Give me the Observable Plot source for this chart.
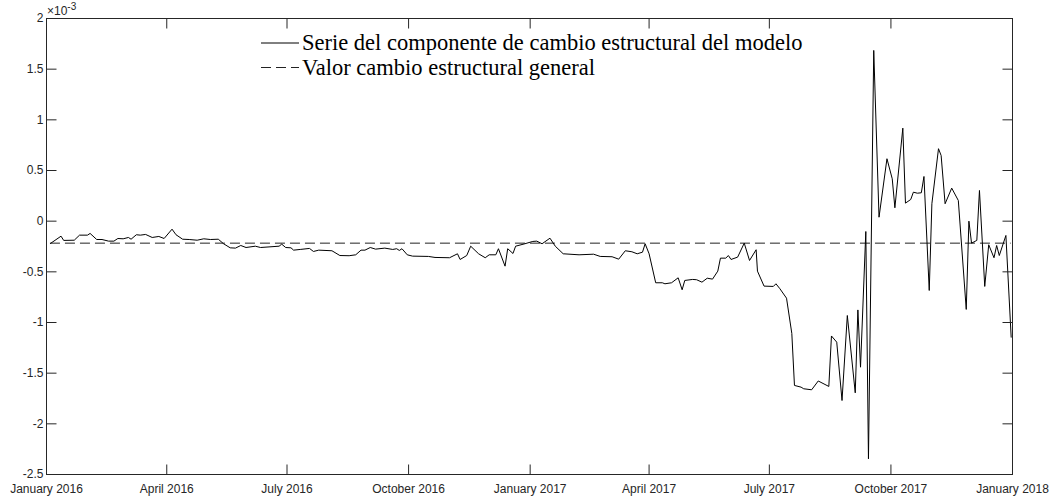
<!DOCTYPE html>
<html><head><meta charset="utf-8">
<script src="https://cdn.jsdelivr.net/npm/d3@7"></script>
<script src="https://cdn.jsdelivr.net/npm/@observablehq/plot@0.6"></script>
<style>body{margin:0;background:#fff} #chart{width:1053px;height:496px}</style>
</head><body><div id="chart"></div>
<script>
// ---- data (values in units of 10^-3) ----
const seriesDates = [
"2016-01-04","2016-01-12","2016-01-14","2016-01-22","2016-01-26","2016-02-01","2016-02-03","2016-02-08","2016-02-12","2016-02-17",
"2016-02-21","2016-02-24","2016-02-28","2016-03-03","2016-03-05","2016-03-09","2016-03-12","2016-03-16","2016-03-21","2016-03-26",
"2016-03-30","2016-04-05","2016-04-08","2016-04-13","2016-04-18","2016-04-24","2016-04-29","2016-05-04","2016-05-10","2016-05-14",
"2016-05-19","2016-05-23","2016-05-27","2016-05-31","2016-06-07","2016-06-11","2016-06-25","2016-06-27","2016-06-30","2016-07-04",
"2016-07-06","2016-07-11","2016-07-18","2016-07-21","2016-07-25","2016-08-04","2016-08-10","2016-08-17","2016-08-22","2016-08-26",
"2016-08-29","2016-09-02","2016-09-06","2016-09-13","2016-09-19","2016-09-22","2016-09-24","2016-09-26","2016-09-30","2016-10-04",
"2016-10-16","2016-10-21","2016-11-01","2016-11-07","2016-11-09","2016-11-14","2016-11-17","2016-11-23","2016-11-28","2016-12-01",
"2016-12-06","2016-12-08","2016-12-13","2016-12-15","2016-12-19","2016-12-21","2016-12-28",
"2017-01-03","2017-01-06","2017-01-10","2017-01-16","2017-01-20","2017-01-26","2017-02-07","2017-02-18","2017-02-23","2017-03-04",
"2017-03-09","2017-03-14","2017-03-19","2017-03-23","2017-03-27","2017-03-29","2017-04-01","2017-04-06","2017-04-11","2017-04-13",
"2017-04-18","2017-04-23","2017-04-26","2017-04-28","2017-05-04","2017-05-07","2017-05-11","2017-05-15","2017-05-19","2017-05-23",
"2017-05-25","2017-05-29","2017-05-31","2017-06-02","2017-06-07","2017-06-12","2017-06-16","2017-06-21","2017-06-22","2017-06-27",
"2017-07-04","2017-07-06","2017-07-09","2017-07-14","2017-07-18","2017-07-20","2017-07-25","2017-07-27","2017-08-02","2017-08-07",
"2017-08-15","2017-08-17","2017-08-21","2017-08-25","2017-08-29","2017-09-04","2017-09-06","2017-09-08","2017-09-12","2017-09-14",
"2017-09-18","2017-09-22","2017-09-28","2017-10-02","2017-10-04","2017-10-10","2017-10-12","2017-10-16","2017-10-18","2017-10-21",
"2017-10-24","2017-10-26","2017-10-30","2017-11-01","2017-11-06","2017-11-08","2017-11-11","2017-11-16","2017-11-21","2017-11-27",
"2017-11-29","2017-12-01","2017-12-05","2017-12-07","2017-12-11","2017-12-14","2017-12-18","2017-12-20","2017-12-22","2017-12-27",
"2017-12-31"];
const seriesValues = [
-0.220,-0.148,-0.190,-0.188,-0.138,-0.138,-0.121,-0.181,-0.181,-0.197,
-0.197,-0.171,-0.174,-0.161,-0.178,-0.134,-0.138,-0.131,-0.161,-0.151,
-0.171,-0.079,-0.134,-0.178,-0.181,-0.188,-0.174,-0.181,-0.178,-0.223,
-0.263,-0.266,-0.240,-0.260,-0.247,-0.260,-0.247,-0.227,-0.260,-0.263,
-0.286,-0.279,-0.269,-0.299,-0.286,-0.292,-0.339,-0.341,-0.332,-0.286,
-0.286,-0.260,-0.276,-0.266,-0.279,-0.272,-0.289,-0.272,-0.332,-0.345,
-0.348,-0.358,-0.361,-0.322,-0.378,-0.339,-0.247,-0.322,-0.361,-0.332,
-0.332,-0.272,-0.444,-0.272,-0.319,-0.247,-0.223,
-0.200,-0.197,-0.223,-0.168,-0.247,-0.322,-0.332,-0.326,-0.348,-0.351,
-0.375,-0.292,-0.302,-0.322,-0.306,-0.223,-0.322,-0.608,-0.608,-0.618,
-0.608,-0.559,-0.677,-0.585,-0.575,-0.578,-0.602,-0.563,-0.572,-0.493,
-0.365,-0.365,-0.339,-0.378,-0.355,-0.217,-0.388,-0.282,-0.493,-0.641,
-0.644,-0.618,-0.667,-0.760,-1.108,-1.621,-1.638,-1.654,-1.664,-1.577,
-1.631,-1.133,-1.194,-1.770,-0.931,-1.694,-0.876,-1.441,-0.102,-2.345,
1.685,0.039,0.616,0.418,0.132,0.918,0.178,0.214,0.286,0.276,
0.280,0.441,-0.684,0.172,0.715,0.648,0.172,0.326,0.204,-0.871,
0.000,-0.217,-0.190,0.303,-0.644,-0.233,-0.361,-0.240,-0.339,-0.141,
-1.145];
const refValue = -0.217; // general structural-change value
const xTickDates = ["2016-01-01","2016-04-01","2016-07-01","2016-10-01","2017-01-01","2017-04-01","2017-07-01","2017-10-01","2018-01-01"];
const xTickLabels = ["January 2016","April 2016","July 2016","October 2016","January 2017","April 2017","July 2017","October 2017","January 2018"];
const yTicks = [-2.5,-2,-1.5,-1,-0.5,0,0.5,1,1.5,2];
const legendLabels = ["Serie del componente de cambio estructural del modelo","Valor cambio estructural general"];

// ---- chart ----
const axisColor = "#262626";
const series = seriesDates.map((d, i) => ({date: new Date(d), value: seriesValues[i]}));
const xDates = xTickDates.map(d => new Date(d));
const labelMap = new Map(xDates.map((d, i) => [+d, xTickLabels[i]]));
const tickShape = {draw(ctx, l) { ctx.moveTo(0, 0); ctx.lineTo(0, -l); }};
const tickOpts = {length: 10, anchor: "start", shape: tickShape, stroke: axisColor, strokeWidth: 1, strokeLinecap: "butt"};

const chart = Plot.plot({
  width: 1053, height: 496,
  marginLeft: 46, marginRight: 41, marginTop: 18, marginBottom: 22,
  style: {fontFamily: "'Liberation Sans', Arial, Helvetica, sans-serif", fontSize: "12px", color: axisColor, background: "#fff"},
  x: {type: "utc", domain: [xDates[0], xDates[xDates.length - 1]]},
  y: {domain: [yTicks[0], yTicks[yTicks.length - 1]]},
  marks: [
    Plot.ruleY([refValue], {x1: series[0].date, x2: series[series.length - 1].date, stroke: "#222", strokeWidth: 1, strokeDasharray: "10,5"}),
    Plot.line(series, {x: "date", y: "value", stroke: "#000", strokeWidth: 1}),
    Plot.frame({stroke: axisColor, strokeWidth: 1}),
    Plot.vector(xDates, {x: d => d, frameAnchor: "bottom", rotate: 0, ...tickOpts}),
    Plot.vector(xDates, {x: d => d, frameAnchor: "top", rotate: 180, ...tickOpts}),
    Plot.vector(yTicks, {y: d => d, frameAnchor: "left", rotate: 90, ...tickOpts}),
    Plot.vector(yTicks, {y: d => d, frameAnchor: "right", rotate: -90, ...tickOpts}),
    Plot.axisX(xDates, {tickSize: 0, tickPadding: 10, tickFormat: d => labelMap.get(+d), label: null}),
    Plot.axisY(yTicks, {tickSize: 0, tickPadding: 3, tickFormat: d => String(d), label: null})
  ]
});
document.getElementById("chart").appendChild(chart);

// ---- exponent label and legend ----
const svg = d3.select(chart);
const expo = svg.append("text").attr("x", 47).attr("y", 15).attr("text-anchor", "start")
  .attr("font-family", "'Liberation Sans', Arial, sans-serif").attr("font-size", 12).attr("fill", axisColor);
expo.append("tspan").text("\u00d710");
expo.append("tspan").attr("dy", -5).attr("font-size", 10).text("-3");

const lg = svg.append("g").attr("text-anchor", "start")
  .attr("font-family", "'Liberation Serif', 'Times New Roman', serif").attr("font-size", 22.5).attr("fill", "#000");
const legendDash = [null, "10,5"];
legendLabels.forEach((t, i) => {
  const cy = 43 + i * 24.5;
  lg.append("line").attr("x1", 261).attr("x2", 299).attr("y1", cy).attr("y2", cy)
    .attr("stroke", i ? "#222" : "#000").attr("stroke-width", 1).attr("stroke-dasharray", legendDash[i]);
  lg.append("text").attr("x", 302).attr("y", cy + 7).text(t);
});
</script></body></html>
